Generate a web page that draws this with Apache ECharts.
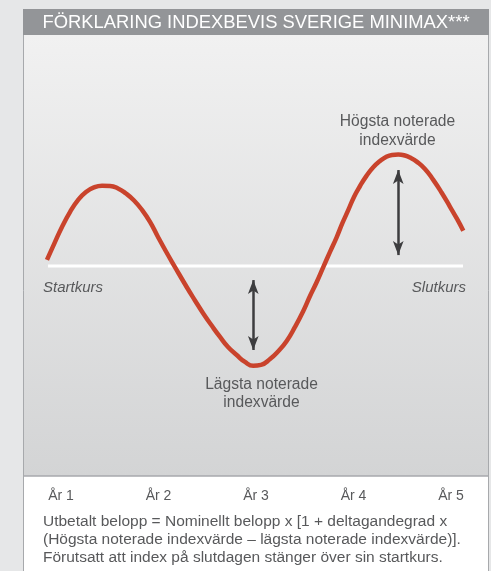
<!DOCTYPE html>
<html>
<head>
<meta charset="utf-8">
<script src="https://cdn.jsdelivr.net/npm/echarts@6/dist/echarts.min.js"></script>
<style>
  html, body { margin: 0; padding: 0; background: #e6e7e8; }
  #chart { width: 491px; height: 571px; }
</style>
</head>
<body>
<div id="chart"></div>
<script>
// index curve, x in years (År 1..5), y as index value (startkurs = 100)
const curveX = [
  0.856, 0.938, 1.010, 1.092, 1.174, 1.256, 1.338, 1.421, 1.503, 1.585,
  1.667, 1.749, 1.831, 1.913, 1.995, 2.077, 2.169, 2.289, 2.374, 2.459,
  2.549, 2.631, 2.713, 2.802, 2.887, 2.972, 3.051, 3.144, 3.226, 3.315,
  3.400, 3.485, 3.554, 3.623, 3.690, 3.759, 3.828, 3.887, 3.947, 4.005,
  4.067, 4.133, 4.200, 4.272, 4.333, 4.395, 4.459, 4.528, 4.590, 4.648,
  4.733, 4.818, 4.903, 4.990, 5.062, 5.126,
];
const curveY = [
  102.9, 111.4, 118.6, 125.7, 131.4, 135.2, 137.4, 138.2, 138.1, 136.9,
  134.5, 131.2, 126.7, 121.0, 113.8, 106.9, 99.5, 90.0, 83.6, 77.4,
  71.4, 66.2, 61.4, 57.6, 54.3, 52.5, 52.9, 55.7, 59.3, 64.3,
  71.0, 78.6, 85.7, 92.4, 99.5, 106.7, 113.8, 120.5, 126.7, 132.9,
  138.1, 142.9, 146.9, 150.0, 151.9, 152.9, 153.1, 152.6, 151.4, 149.7,
  146.2, 141.0, 135.0, 128.2, 122.4, 116.8,
];
const baseX = [0.867, 5.123];
const baseY = [100, 100];
const years = [1, 2, 3, 4, 5];
const yearLabel = "År ";
// arrows: [x, from, to]
const arrowHigh = [4.459, 145.7, 105.2];
const arrowLow = [2.972, 93.3, 60.0];

const title = "FÖRKLARING INDEXBEVIS SVERIGE MINIMAX***";
const noteText = "Utbetalt belopp = Nominellt belopp x [1 + deltagandegrad x\n(Högsta noterade indexvärde – lägsta noterade indexvärde)].\nFörutsatt att index på slutdagen stänger över sin startkurs.";

const textColor = "#58595b";
const font = "'Liberation Sans', Arial, Helvetica, sans-serif";

const myChart = echarts.init(document.getElementById("chart"));

const option = {
  animation: false,
  backgroundColor: "#e6e7e8",
  grid: { left: 24, right: 3, top: 35, bottom: 95 },
  xAxis: {
    type: "value",
    min: 0.6205,
    max: 5.3795,
    axisLine: { show: false },
    axisTick: { show: false },
    splitLine: { show: false },
    axisLabel: {
      customValues: years,
      formatter: (v) => yearLabel + v,
      color: textColor,
      fontSize: 14,
      fontFamily: font,
      margin: 13,
    },
  },
  yAxis: { type: "value", min: 0, max: 210, show: false },
  graphic: [
    { type: "rect", z: -10, shape: { x: 23.5, y: 9.5, width: 465, height: 570 }, style: { fill: "#ffffff", stroke: "#a7a9ac", lineWidth: 1 } },
    {
      type: "rect", z: -9,
      shape: { x: 24, y: 35, width: 464, height: 441 },
      style: {
        fill: new echarts.graphic.LinearGradient(0, 0, 0, 1, [
          { offset: 0, color: "#f1f1f1" },
          { offset: 1, color: "#d3d4d5" },
        ]),
      },
    },
    { type: "line", z: -8, shape: { x1: 24, y1: 476, x2: 488, y2: 476 }, style: { stroke: "#a7a9ac", lineWidth: 1.5 } },
    { type: "rect", z: -8, shape: { x: 23, y: 9, width: 466, height: 26 }, style: { fill: "#939598" } },
    {
      type: "text", z: 10, x: 256, y: 23,
      style: { text: title, fill: "#ffffff", font: "18.4px " + font, textAlign: "center", textVerticalAlign: "middle" },
    },
    {
      type: "text", z: 10, x: 397.5, y: 131,
      style: { text: "Högsta noterade\nindexvärde", fill: textColor, font: "15.6px " + font, lineHeight: 18.5, textAlign: "center", textVerticalAlign: "middle" },
    },
    {
      type: "text", z: 10, x: 261.5, y: 394,
      style: { text: "Lägsta noterade\nindexvärde", fill: textColor, font: "15.6px " + font, lineHeight: 18, textAlign: "center", textVerticalAlign: "middle" },
    },
    {
      type: "text", z: 10, x: 43, y: 287.5,
      style: { text: "Startkurs", fill: textColor, font: "italic 15px " + font, textAlign: "left", textVerticalAlign: "middle" },
    },
    {
      type: "text", z: 10, x: 466, y: 287.5,
      style: { text: "Slutkurs", fill: textColor, font: "italic 15px " + font, textAlign: "right", textVerticalAlign: "middle" },
    },
    {
      type: "text", z: 10, x: 43, y: 513,
      style: { text: noteText, fill: textColor, font: "15.5px " + font, lineHeight: 17.8, textAlign: "left", textVerticalAlign: "top" },
    },
  ],
  series: [
    {
      type: "line",
      z: 1,
      data: baseX.map((x, i) => [x, baseY[i]]),
      showSymbol: false,
      silent: true,
      lineStyle: { color: "#ffffff", width: 3 },
      markLine: {
        silent: true,
        symbol: ["arrow", "arrow"],
        symbolSize: [8, 14],
        label: { show: false },
        lineStyle: { color: "#3d3d3f", width: 2.5, type: "solid" },
        data: [arrowHigh, arrowLow].map((a) => [{ coord: [a[0], a[1]] }, { coord: [a[0], a[2]] }]),
      },
    },
    {
      type: "line",
      z: 3,
      data: curveX.map((x, i) => [x, curveY[i]]),
      smooth: true,
      showSymbol: false,
      silent: true,
      lineStyle: { color: "#c9432c", width: 4.5 },
    },
  ],
};

option && myChart.setOption(option);
</script>
</body>
</html>
